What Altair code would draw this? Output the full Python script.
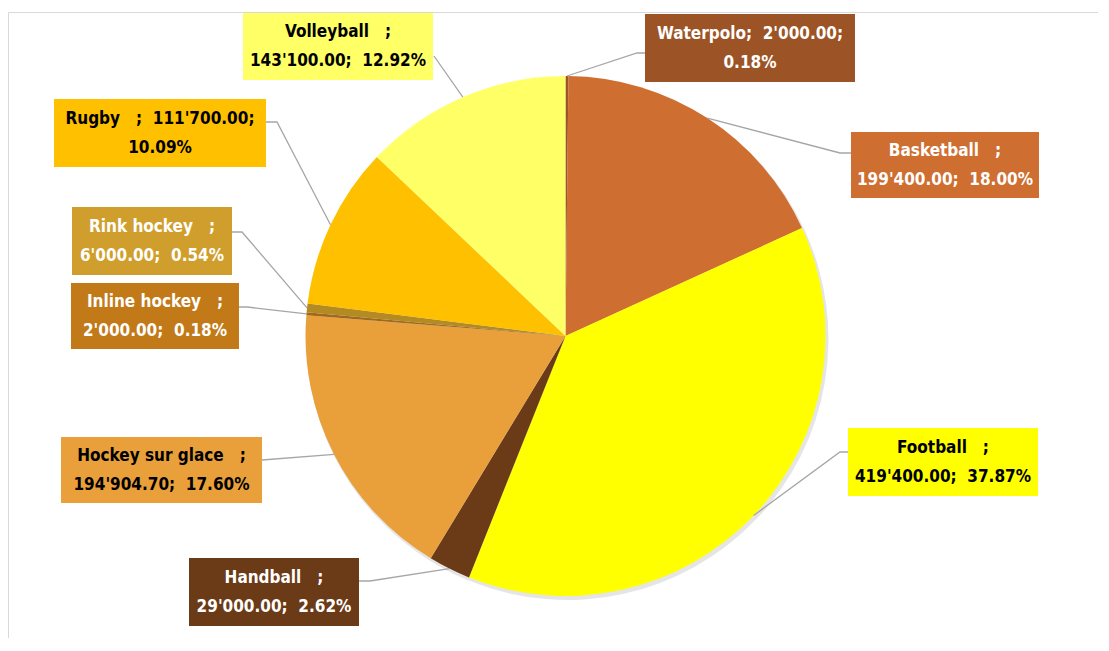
import math
import altair as alt
import pandas as pd

# ---------------- data ----------------
sports = ["Waterpolo", "Basketball", "Football", "Handball", "Hockey sur glace",
          "Inline hockey", "Rink hockey", "Rugby", "Volleyball"]
values = [2000.00, 199400.00, 419400.00, 29000.00, 194904.70,
          2000.00, 6000.00, 111700.00, 143100.00]
# how the label is split over two lines: "name" -> name / value; pct,  "value" -> name; value / pct
label_split = ["value", "name", "name", "name", "name", "name", "name", "value", "name"]

# ---------------- styles ----------------
slice_colors = ["#9E5426", "#CF6E31", "#FFFF00", "#6B3A17", "#E9A03B",
                "#A3691B", "#B38B22", "#FFC000", "#FFFF66"]
box_colors = ["#9C5325", "#CF6E31", "#FFFF00", "#6B3A17", "#E9A03B",
              "#C27918", "#D09E2C", "#FFC000", "#FFFF66"]
text_colors = ["white", "white", "black", "white", "black",
               "white", "white", "black", "black"]

# ---------------- layout (page pixels) ----------------
W, H = 1090, 630
OX, OY = 8, 8
CX, CY, R = 565.5, 336, 260
box_x0 = [645, 851, 848, 189, 61, 71, 72, 54, 243]
box_x1 = [855, 1039, 1038, 359, 262, 239, 232, 266, 433]
box_y0 = [14, 132, 428, 558, 437, 283, 207, 99, 13]
box_y1 = [82, 198, 496, 626, 503, 349, 275, 167, 80]
# leader line: elbow point and attach point on the box
elbow = [(637, 53), (840, 153), (840, 452), (370, 581), None,
         (247, 307), (242, 232), (277, 122), None]
attach = [(645, 53), (851, 153), (848, 452), (359, 581), (262, 460),
          (239, 307), (232, 232), (266, 122), (434, 56)]

FONT = "DejaVu Sans Condensed, Liberation Sans Narrow, Roboto, sans-serif"
FONT_SIZE = 17
LINE_H = 29

# ---------------- tables ----------------
total = sum(values)
NB = "\u00a0"


def fmt(v):
    return f"{v:,.2f}".replace(",", "'")


rows, line_rows = [], []
cum = 0.0
for i, (s, v) in enumerate(zip(sports, values)):
    pct = f"{100 * v / total:.2f}%"
    if label_split[i] == "name":
        label = f"{s}{NB*3};\n{fmt(v)};{NB*2}{pct}"
    else:
        label = f"{s}{NB*3 if i else ''};{NB*2}{fmt(v)};\n{pct}"
    mid = (cum + v / 2) / total
    cum += v
    ang = 2 * math.pi * mid
    ex = CX + R * math.sin(ang)
    ey = CY - R * math.cos(ang)
    rows.append(dict(
        sport=s, value=v, idx=i, slice_color=slice_colors[i],
        box_color=box_colors[i], text_color=text_colors[i], label=label,
        bx0=box_x0[i] - OX, bx1=box_x1[i] - OX,
        by0=box_y0[i] - OY, by1=box_y1[i] - OY,
        tx=(box_x0[i] + box_x1[i]) / 2 - OX,
        ty=(box_y0[i] + box_y1[i]) / 2 - OY - LINE_H / 2,
    ))
    pts = [(ex, ey)]
    if elbow[i] is not None:
        pts.append(elbow[i])
    pts.append(attach[i])
    for k, (px, py) in enumerate(pts):
        line_rows.append(dict(sport=s, k=k, px=px - OX, py=py - OY))

df = pd.DataFrame(rows)
lines = pd.DataFrame(line_rows)
border = pd.DataFrame([
    dict(x=0.5, x2=W, y=12 - OY + 0.5, y2=12 - OY + 0.5),
    dict(x=0.5, x2=0.5, y=12 - OY + 0.5, y2=H),
])

xs = alt.Scale(domain=[0, W], nice=False, zero=False)
ys = alt.Scale(domain=[0, H], nice=False, zero=False, reverse=True)

base = alt.Chart(df)

shadow = base.mark_arc(outerRadius=R + 1, opacity=0.10, color="#000000").encode(
    theta=alt.Theta("value:Q", stack=True),
    order=alt.Order("idx:Q"),
    x=alt.value(CX - OX + 2), y=alt.value(CY - OY + 3),
)

pie = base.mark_arc(outerRadius=R).encode(
    theta=alt.Theta("value:Q", stack=True),
    order=alt.Order("idx:Q"),
    color=alt.Color("slice_color:N", scale=None),
    x=alt.value(CX - OX), y=alt.value(CY - OY),
)

leaders = alt.Chart(lines).mark_line(color="#A6A6A6", strokeWidth=1.3).encode(
    x=alt.X("px:Q", scale=xs, axis=None),
    y=alt.Y("py:Q", scale=ys, axis=None),
    detail="sport:N",
    order="k:Q",
)

boxes = base.mark_rect().encode(
    x=alt.X("bx0:Q", scale=xs, axis=None), x2="bx1:Q",
    y=alt.Y("by0:Q", scale=ys, axis=None), y2="by1:Q",
    color=alt.Color("box_color:N", scale=None),
)

texts = base.mark_text(font=FONT, fontSize=FONT_SIZE, fontWeight="bold", lineBreak="\n",
                       lineHeight=LINE_H, align="center", baseline="middle").encode(
    x=alt.X("tx:Q", scale=xs, axis=None),
    y=alt.Y("ty:Q", scale=ys, axis=None),
    text="label:N",
    color=alt.Color("text_color:N", scale=None),
)

frame = alt.Chart(border).mark_rule(color="#D9D9D9", strokeWidth=1).encode(
    x=alt.X("x:Q", scale=xs, axis=None), x2="x2:Q",
    y=alt.Y("y:Q", scale=ys, axis=None), y2="y2:Q",
)

chart = alt.layer(frame, shadow, pie, leaders, boxes, texts).properties(
    width=W, height=H, padding=0, background="white"
).configure_view(stroke=None)

chart.save("out.html", embed_options={"renderer": "svg", "actions": False})
